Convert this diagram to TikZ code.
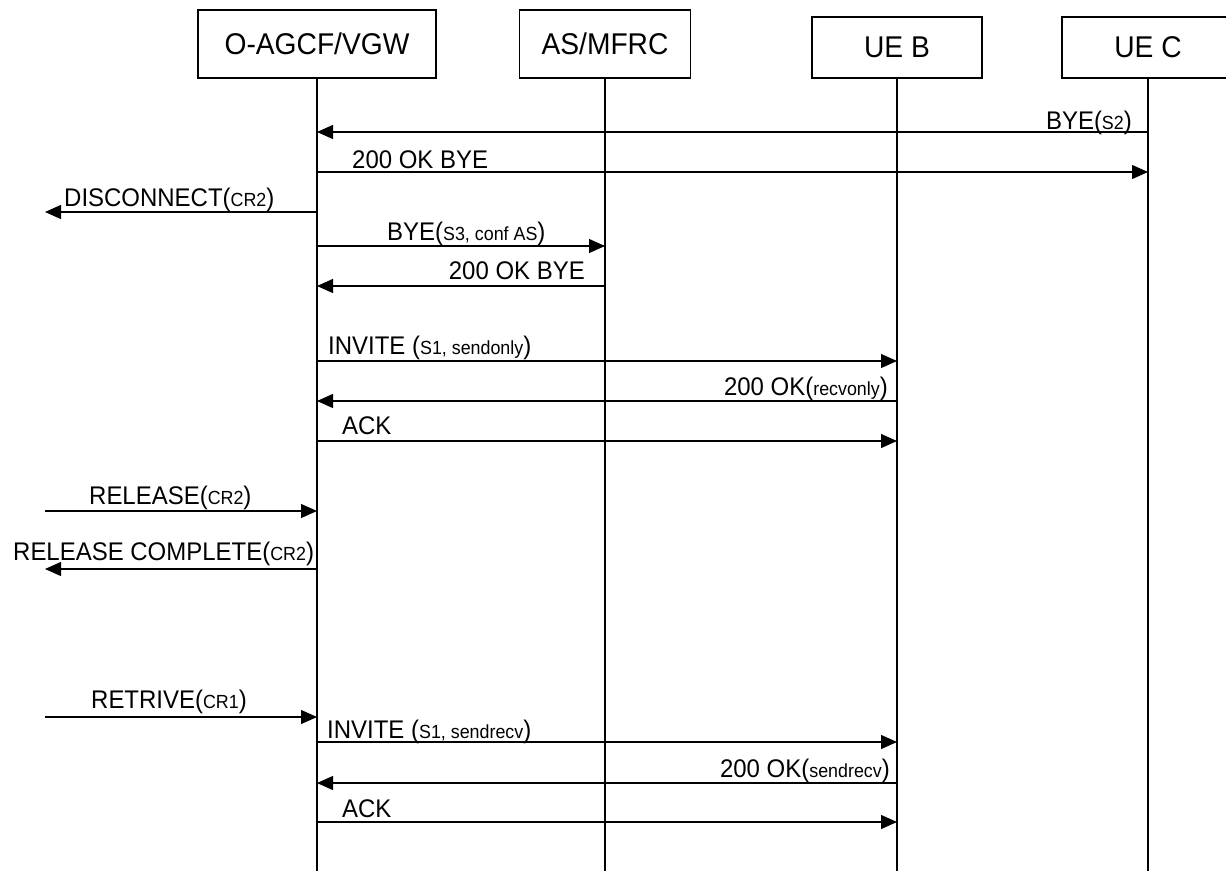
\documentclass[tikz,border=0pt]{standalone}
\usepackage{fontspec}
\setmainfont{Liberation Sans}[FakeStretch=0.94]
\usetikzlibrary{arrows.meta}
\newcommand{\smtxt}[1]{{\fontsize{19}{21}\selectfont #1}}
\begin{document}
\begin{tikzpicture}[x=1pt,y=-1pt,
  actor/.style={draw, line width=1.3pt, inner sep=0pt, font=\fontsize{30}{32}\selectfont},
  life/.style={line width=1.2pt},
  msg/.style={line width=1.2pt, -{Triangle[length=16pt,width=14pt]}},
  lbl/.style={inner sep=0pt, font=\fontsize{25.5}{28}\selectfont}]
\useasboundingbox (0,0) rectangle (1226,871);
\clip (0,0) rectangle (1226,871);
% actors
\node[actor, minimum width=238pt, minimum height=68pt] (agcf) at (317,44) {O-AGCF/VGW};
\node[actor, minimum width=171pt, minimum height=68pt] (as) at (605,44) {AS/MFRC};
\node[actor, minimum width=170pt, minimum height=61pt] (ueb) at (897,47.5) {UE B};
\node[actor, minimum width=172pt, minimum height=61pt] (uec) at (1148,47.5) {UE C};
\coordinate (env) at (45,0);
% lifelines
\draw[life] (agcf.south) -- (agcf.south |- 0,871);
\draw[life] (as.south) -- (as.south |- 0,871);
\draw[life] (ueb.south) -- (ueb.south |- 0,871);
\draw[life] (uec.south) -- (uec.south |- 0,871);
% messages
\draw[msg] (uec.south |- 0,132) -- (agcf.south |- 0,132);
\node[lbl, anchor=base east] at (1132,129) {BYE(\smtxt{S2})};
\draw[msg] (agcf.south |- 0,172) -- (uec.south |- 0,172);
\node[lbl, anchor=base west] at (352,168) {200 OK BYE};
\draw[msg] (agcf.south |- 0,212) -- (env |- 0,212);
\node[lbl, anchor=base west] at (64,206) {DISCONNECT(\smtxt{CR2})};
\draw[msg] (agcf.south |- 0,246) -- (as.south |- 0,246);
\node[lbl, anchor=base west] at (387,240) {BYE(\smtxt{S3, conf AS})};
\draw[msg] (as.south |- 0,286) -- (agcf.south |- 0,286);
\node[lbl, anchor=base east] at (585,279) {200 OK BYE};
\draw[msg] (agcf.south |- 0,361) -- (ueb.south |- 0,361);
\node[lbl, anchor=base west] at (328,354) {INVITE (\smtxt{S1, sendonly})};
\draw[msg] (ueb.south |- 0,401) -- (agcf.south |- 0,401);
\node[lbl, anchor=base east] at (888,395) {200 OK(\smtxt{recvonly})};
\draw[msg] (agcf.south |- 0,441) -- (ueb.south |- 0,441);
\node[lbl, anchor=base west] at (342,434) {ACK};
\draw[msg] (env |- 0,511) -- (agcf.south |- 0,511);
\node[lbl, anchor=base west] at (89,504) {RELEASE(\smtxt{CR2})};
\draw[msg] (agcf.south |- 0,569) -- (env |- 0,569);
\node[lbl, anchor=base west] at (13,560) {RELEASE COMPLETE(\smtxt{CR2})};
\draw[msg] (env |- 0,717) -- (agcf.south |- 0,717);
\node[lbl, anchor=base west] at (91,708) {RETRIVE(\smtxt{CR1})};
\draw[msg] (agcf.south |- 0,742) -- (ueb.south |- 0,742);
\node[lbl, anchor=base west] at (327,738) {INVITE (\smtxt{S1, sendrecv})};
\draw[msg] (ueb.south |- 0,783) -- (agcf.south |- 0,783);
\node[lbl, anchor=base east] at (890,777) {200 OK(\smtxt{sendrecv})};
\draw[msg] (agcf.south |- 0,822) -- (ueb.south |- 0,822);
\node[lbl, anchor=base west] at (342,817) {ACK};
\end{tikzpicture}
\end{document}
